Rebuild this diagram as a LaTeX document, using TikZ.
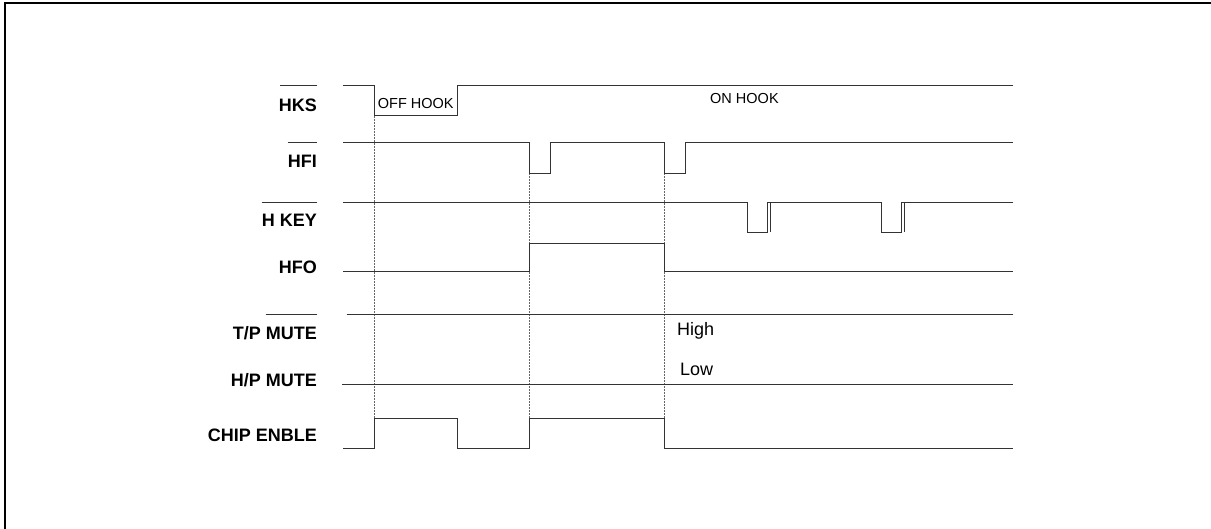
\documentclass[tikz,border=0pt]{standalone}
\usepackage{fontspec}
\setmainfont{Liberation Sans}
\begin{document}
\begin{tikzpicture}[x=1pt,y=-1pt,
  siglabel/.style={anchor=base east,inner sep=0pt,font=\fontsize{18}{20}\selectfont\bfseries},
  note/.style={anchor=base west,inner sep=0pt,font=\fontsize{14.5}{16}\selectfont},
  bignote/.style={anchor=base west,inner sep=0pt,font=\fontsize{18}{20}\selectfont},
  sig/.style={draw=black!80,line width=1pt},
  guide/.style={draw=black!60,line width=0.7pt,dash pattern=on 2pt off 1pt},
  bar/.style={draw=black!80,line width=1pt}]
\useasboundingbox (0,0) rectangle (1211,529);
% frame
\draw[line width=2pt] (5,529) -- (5,3.3) -- (1211,3.3);
% labels
\node[siglabel] (hks) at (317,111.5) {HKS};
\node[siglabel] (hfi) at (317,167.5) {HFI};
\node[siglabel] (hkey) at (317,226.5) {H KEY};
\node[siglabel] (hfo) at (317,273.5) {HFO};
\node[siglabel] (tpm) at (317,339.5) {T/P MUTE};
\node[siglabel] (hpm) at (317,386.5) {H/P MUTE};
\node[siglabel] (chip) at (317,442) {CHIP ENBLE};
% overlines
\draw[bar] (280,86) -- (316.7,86);
\draw[bar] (287.7,142.7) -- (316.7,142.7);
\draw[bar] (261.7,202.7) -- (316.7,202.7);
\draw[bar] (265.5,315) -- (317,315);
% guide lines
\draw[guide] (374.3,116) -- (374.3,418.3);
\draw[guide] (529.3,173.5) -- (529.3,418.3);
\draw[guide] (664,173.5) -- (664,418.3);
% HKS
\draw[sig] (343,86) -- (374.3,86) -- (374.3,116) -- (457.3,116) -- (457.3,86) -- (1013,86);
% HFI
\draw[sig] (343,142.7) -- (529.3,142.7) -- (529.3,173.5) -- (550.7,173.5) -- (550.7,142.7)
  -- (664,142.7) -- (664,173.5) -- (685,173.5) -- (685,142.7) -- (1013,142.7);
% H KEY
\draw[sig] (343,202.7) -- (747.3,202.7) -- (747.3,232.2) -- (767.7,232.2) -- (767.7,202.7)
  -- (881.7,202.7) -- (881.7,232.2) -- (901.7,232.2) -- (901.7,202.7) -- (1013,202.7);
\draw[sig] (770,232.2) -- (770,202.7);
\draw[sig] (904,232.2) -- (904,202.7);
% HFO
\draw[sig] (343,271.7) -- (529.3,271.7) -- (529.3,243.3) -- (664,243.3) -- (664,271.7) -- (1013,271.7);
% T/P MUTE
\draw[sig] (346.5,315) -- (1013,315);
% H/P MUTE
\draw[sig] (342,385) -- (1013,385);
% CHIP ENBLE
\draw[sig] (343,448.3) -- (374.3,448.3) -- (374.3,418.3) -- (457.3,418.3) -- (457.3,448.3)
  -- (529.3,448.3) -- (529.3,418.3) -- (664,418.3) -- (664,448.3) -- (1013,448.3);
% notes
\node[note] (off) at (377.7,108.3) {OFF HOOK};
\node[note] (on) at (710,103.3) {ON HOOK};
\node[bignote] (high) at (677,336) {High};
\node[bignote] (low) at (680,376) {Low};
\end{tikzpicture}
\end{document}
